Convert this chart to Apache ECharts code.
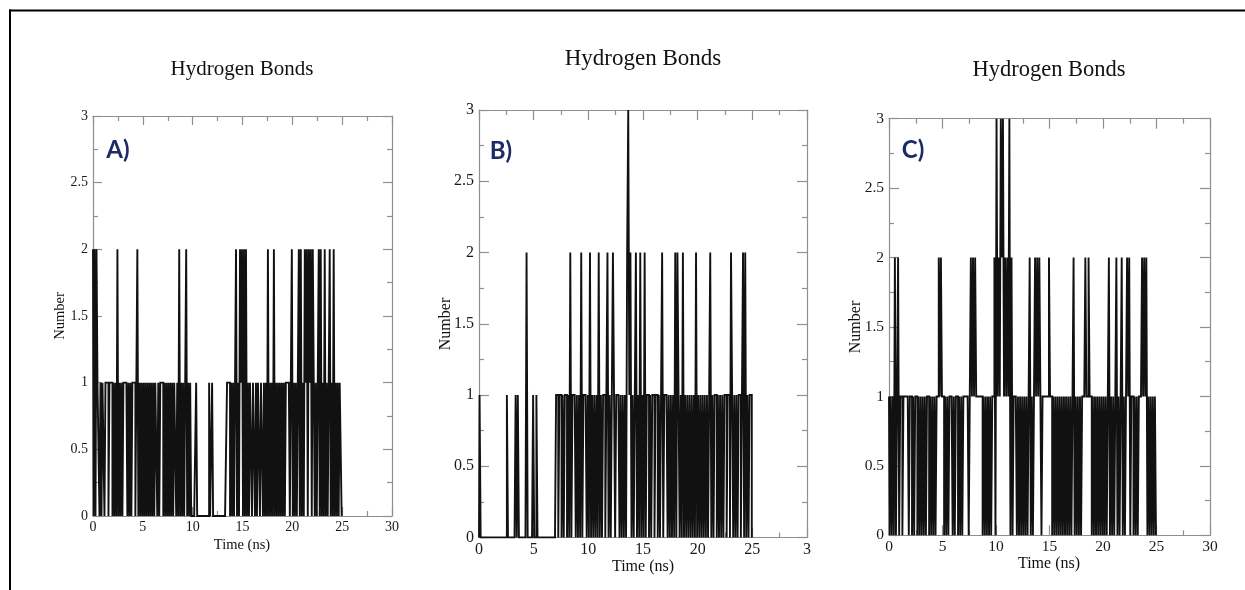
<!DOCTYPE html>
<html>
<head>
<meta charset="utf-8">
<script src="https://cdn.jsdelivr.net/npm/echarts@6/dist/echarts.min.js"></script>
<style>
  html, body { margin: 0; padding: 0; background: #fff; }
  #chart { width: 1245px; height: 590px; }
</style>
</head>
<body>
<div id="chart"></div>
<script>
// ---- DATA (number of hydrogen bonds, sampled every 0.1 ns from 0 to 25 ns) ----
const timeStep = 0.1; // ns between frames
const panelTitles = ['Hydrogen Bonds', 'Hydrogen Bonds', 'Hydrogen Bonds'];
const panelLetters = ['A)', 'B)', 'C)'];
const xAxisName = 'Time (ns)';
const yAxisName = 'Number';
const yTickLabels = ['0', '0.5', '1', '1.5', '2', '2.5', '3'];
const xTickLabelsA = ['0', '5', '10', '15', '20', '25', '30'];
const xTickLabelsB = ['0', '5', '10', '15', '20', '25', '3'];
const xTickLabelsC = ['0', '5', '10', '15', '20', '25', '30'];

const hbA = [
  2,0,2,0,2,1,1,0,1,0,
  1,1,0,1,1,1,0,1,1,1,
  0,1,0,1,0,2,0,1,0,1,
  0,1,1,1,1,0,1,0,1,0,
  1,1,1,0,1,2,0,1,0,1,
  0,1,0,1,0,1,0,1,0,1,
  0,1,0,1,1,0,1,0,1,1,
  1,0,1,0,1,0,1,0,1,0,
  1,0,1,1,0,1,0,2,0,1,
  0,1,0,1,2,0,1,0,1,0,
  0,0,0,0,1,0,0,0,0,0,
  0,0,0,0,0,0,0,1,0,0,
  1,0,0,0,0,0,0,0,0,0,
  0,0,0,0,0,1,1,1,0,1,
  0,1,0,1,2,0,1,0,2,1,
  2,0,2,0,2,0,1,0,1,1,
  0,1,1,0,1,0,1,1,0,1,
  1,0,1,0,1,0,2,0,1,0,
  1,0,2,0,1,0,1,0,1,0,
  1,0,1,0,1,1,1,1,0,1,
  2,0,1,0,1,0,1,2,0,2,
  0,1,0,2,1,2,0,2,1,2,
  0,2,1,0,1,0,1,2,0,2,
  0,1,0,2,0,1,0,1,2,0,
  1,0,2,0,1,0,1,0,1,1,
  0
];

const hbB = [
  0,1,0,0,0,0,0,0,0,0,
  0,0,0,0,0,0,0,0,0,0,
  0,0,0,0,0,0,1,0,0,0,
  0,0,0,0,1,0,1,0,0,0,
  0,0,0,0,2,0,0,0,0,0,
  1,0,0,1,0,0,0,0,0,0,
  0,0,0,0,0,0,0,0,0,0,
  0,1,1,0,1,1,0,1,0,1,
  1,0,1,0,2,0,1,1,1,0,
  1,0,1,0,2,0,1,1,1,0,
  1,0,2,0,1,0,1,0,1,0,
  2,0,1,0,1,1,0,1,2,0,
  1,0,1,2,1,0,1,1,1,0,
  1,0,1,0,1,0,2,3,1,2,
  0,1,0,1,2,0,1,0,2,0,
  1,0,2,0,1,1,0,1,0,1,
  1,0,1,1,0,1,0,1,2,0,
  1,1,1,0,1,0,1,0,1,0,
  2,0,2,1,0,1,0,2,0,1,
  0,1,0,1,0,1,0,1,0,2,
  0,1,0,1,0,1,0,1,0,1,
  0,1,2,0,1,0,1,1,0,1,
  0,1,0,1,0,1,1,0,1,1,
  0,2,1,0,1,0,1,0,1,1,
  0,1,2,0,2,0,1,0,1,1,
  0
];

const hbC = [
  1,0,1,0,1,0,2,0,1,2,
  0,1,1,0,1,1,1,1,1,0,
  1,1,0,1,0,1,1,0,1,0,
  1,0,1,0,1,0,1,1,0,1,
  0,1,0,1,0,1,1,2,1,2,
  1,1,0,1,0,1,0,1,1,1,
  0,1,0,1,1,0,1,0,1,0,
  1,1,1,1,1,0,1,2,1,2,
  1,2,1,1,1,1,1,1,0,1,
  0,1,0,1,0,1,0,1,1,2,
  0,3,1,2,1,3,2,3,1,2,
  1,2,1,3,0,2,0,1,1,1,
  0,1,0,1,0,1,0,1,0,1,
  0,1,2,0,1,0,1,2,1,2,
  1,2,1,0,1,1,1,1,1,1,
  2,1,1,0,1,0,1,0,1,0,
  1,0,1,0,1,0,1,0,1,0,
  1,0,1,2,0,1,0,1,0,1,
  0,1,1,1,2,1,1,2,1,1,
  0,1,0,1,0,1,0,1,0,1,
  0,1,0,1,0,1,2,0,1,0,
  1,0,1,2,0,1,0,1,2,0,
  1,0,1,2,1,2,0,1,1,0,
  1,0,1,0,1,1,1,2,1,2,
  1,2,0,1,0,1,0,1,0,1,
  0
];

// ---- LAYOUT / STYLE ----
const panels = [
  { values: hbA, xLabels: xTickLabelsA, grid: { left: 93, top: 116, width: 299, height: 400 },
    font: 14, nameFont: 14.5, titleFont: 21, titleX: 242, titleY: 70,
    yNameX: 60, yNameY: 316, xNameX: 242, xNameY: 545, letterX: 118, letterY: 150, tickLen: 9 },
  { values: hbB, xLabels: xTickLabelsB, grid: { left: 479, top: 110, width: 328, height: 427.5 },
    font: 16, nameFont: 16, titleFont: 23, titleX: 643, titleY: 60,
    yNameX: 446, yNameY: 324, xNameX: 643, xNameY: 567, letterX: 501, letterY: 151, tickLen: 10 },
  { values: hbC, xLabels: xTickLabelsC, grid: { left: 889, top: 118.7, width: 321, height: 416.6 },
    font: 15.5, nameFont: 16, titleFont: 22.5, titleX: 1049, titleY: 71,
    yNameX: 856, yNameY: 327, xNameX: 1049, xNameY: 564, letterX: 913, letterY: 150, tickLen: 10 }
];

const frameColor = '#8f8f8f';
const serif = '"Liberation Serif", "DejaVu Serif", serif';

const grids = [], xAxes = [], yAxes = [], series = [], titles = [], graphics = [];

panels.forEach((p, i) => {
  grids.push(Object.assign({ containLabel: false }, p.grid));
  const lineStyle = { color: frameColor, width: 1.2 };
  const tickCommon = { show: true, inside: true, length: p.tickLen, lineStyle: lineStyle };
  const minorCommon = { show: true, splitNumber: 2, length: 5, lineStyle: lineStyle };
  const labelStyle = { fontFamily: serif, fontSize: p.font, color: '#1a1a1a' };
  xAxes.push({
    type: 'value', gridIndex: i, position: 'bottom', min: 0, max: 30, interval: 5,
    axisLine: { show: true, onZero: false, lineStyle: lineStyle },
    axisTick: tickCommon, minorTick: minorCommon,
    splitLine: { show: false }, minorSplitLine: { show: false },
    axisLabel: Object.assign({ margin: 4, formatter: v => p.xLabels[Math.round(v / 5)] }, labelStyle)
  });
  xAxes.push({
    type: 'value', gridIndex: i, position: 'top', min: 0, max: 30, interval: 5,
    axisLine: { show: true, onZero: false, lineStyle: lineStyle },
    axisTick: tickCommon, minorTick: minorCommon,
    splitLine: { show: false }, minorSplitLine: { show: false },
    axisLabel: { show: false }
  });
  yAxes.push({
    type: 'value', gridIndex: i, position: 'left', min: 0, max: 3, interval: 0.5,
    axisLine: { show: true, onZero: false, lineStyle: lineStyle },
    axisTick: tickCommon, minorTick: minorCommon,
    splitLine: { show: false }, minorSplitLine: { show: false },
    axisLabel: Object.assign({ margin: 5, formatter: v => yTickLabels[Math.round(v / 0.5)] }, labelStyle)
  });
  yAxes.push({
    type: 'value', gridIndex: i, position: 'right', min: 0, max: 3, interval: 0.5,
    axisLine: { show: true, onZero: false, lineStyle: lineStyle },
    axisTick: tickCommon, minorTick: minorCommon,
    splitLine: { show: false }, minorSplitLine: { show: false },
    axisLabel: { show: false }
  });

  series.push({
    type: 'line', xAxisIndex: i * 2, yAxisIndex: i * 2,
    data: p.values.map((v, k) => [k * timeStep, v]),
    step: 'middle',
    showSymbol: false, symbol: 'none', sampling: null,
    lineStyle: { color: '#111', width: 1.9, join: 'miter', cap: 'butt' },
    silent: true, animation: false, z: 1
  });

  titles.push({
    text: panelTitles[i], left: p.titleX, top: p.titleY - p.titleFont / 2 - 1,
    textAlign: 'center', padding: 0,
    textStyle: { fontFamily: serif, fontSize: p.titleFont, fontWeight: 'normal', color: '#111' }
  });

  graphics.push({
    type: 'text', x: p.yNameX, y: p.yNameY, rotation: Math.PI / 2,
    style: { text: yAxisName, fontFamily: serif, fontSize: p.nameFont, fill: '#111',
             textAlign: 'center', textVerticalAlign: 'middle' }
  });
  graphics.push({
    type: 'text', x: p.xNameX, y: p.xNameY,
    style: { text: xAxisName, fontFamily: serif, fontSize: p.nameFont, fill: '#111',
             textAlign: 'center', textVerticalAlign: 'middle' }
  });
  graphics.push({
    type: 'text', x: p.letterX, y: p.letterY, z: 10,
    style: { text: panelLetters[i], fontFamily: 'Lato, "Open Sans", sans-serif', fontSize: 24,
             fontWeight: 'bold', fill: '#1c2b66', textAlign: 'center', textVerticalAlign: 'middle' }
  });
});

graphics.push({ type: 'line', shape: { x1: 9, y1: 10.5, x2: 1245, y2: 10.5 }, style: { stroke: '#000', lineWidth: 2 } });
graphics.push({ type: 'line', shape: { x1: 10, y1: 9.5, x2: 10, y2: 590 }, style: { stroke: '#000', lineWidth: 2 } });

const chart = echarts.init(document.getElementById('chart'), null, { renderer: 'canvas' });
chart.setOption({
  backgroundColor: '#fff',
  animation: false,
  title: titles,
  grid: grids,
  xAxis: xAxes,
  yAxis: yAxes,
  series: series,
  graphic: graphics
});
</script>
</body>
</html>
